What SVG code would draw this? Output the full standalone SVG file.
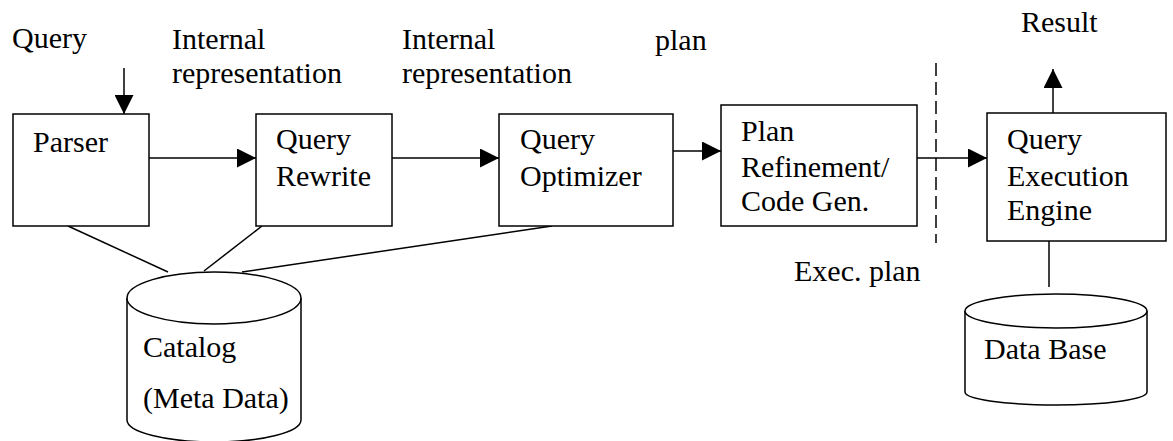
<svg xmlns="http://www.w3.org/2000/svg" width="1173" height="441" viewBox="0 0 1173 441">
<style>
text{font-family:"Liberation Serif","Times New Roman",serif;font-size:30px;fill:#000}
.box{fill:#fff;stroke:#000;stroke-width:1.5}
.ln{fill:none;stroke:#000;stroke-width:1.5}
.arr{fill:none;stroke:#000;stroke-width:1.5;marker-end:url(#ah)}
.cyl{fill:#fff;stroke:#000;stroke-width:1.5}
</style>
<defs>
<marker id="ah" markerUnits="userSpaceOnUse" markerWidth="19" markerHeight="19" refX="19" refY="9.5" orient="auto">
<path d="M0,0 L19,9.5 L0,19 z" fill="#000"/>
</marker>
</defs>
<rect width="1173" height="441" fill="#fff"/>
<g id="labels">
<text x="12" y="48">Query</text>
<text x="172" y="49">Internal</text>
<text x="172" y="83">representation</text>
<text x="402" y="49">Internal</text>
<text x="402" y="83">representation</text>
<text x="655" y="50">plan</text>
<text x="1021" y="32">Result</text>
<text x="794" y="281">Exec. plan</text>
</g>
<g id="connectors">
<line class="arr" x1="124" y1="68" x2="124" y2="114"/>
<line class="arr" x1="145" y1="158" x2="256" y2="158"/>
<line class="arr" x1="388" y1="158" x2="499" y2="158"/>
<line class="arr" x1="673" y1="151" x2="721" y2="151"/>
<line class="arr" x1="898" y1="158" x2="987" y2="158"/>
<line class="arr" x1="1053" y1="113" x2="1053" y2="69"/>
<line class="ln" x1="68" y1="226" x2="168" y2="272"/>
<line class="ln" x1="262" y1="226" x2="204" y2="271"/>
<line class="ln" x1="552" y1="226" x2="242" y2="272"/>
<line class="ln" x1="1049" y1="241" x2="1049" y2="287"/>
<line class="ln" x1="936" y1="63" x2="936" y2="243" stroke-dasharray="13 6"/>
</g>
<g id="parser">
<rect class="box" x="13" y="114" width="136" height="112"/>
<text x="33" y="152">Parser</text>
</g>
<g id="rewrite">
<rect class="box" x="256" y="114" width="136" height="112"/>
<text x="276" y="149">Query</text>
<text x="276" y="186">Rewrite</text>
</g>
<g id="optimizer">
<rect class="box" x="499" y="114" width="174" height="112"/>
<text x="520" y="149">Query</text>
<text x="520" y="186">Optimizer</text>
</g>
<g id="refinement">
<rect class="box" x="721" y="105" width="196" height="121"/>
<text x="741" y="141">Plan</text>
<text x="741" y="177">Refinement/</text>
<text x="741" y="211">Code Gen.</text>
</g>
<g id="engine">
<rect class="box" x="987" y="113" width="179" height="128"/>
<text x="1007" y="149">Query</text>
<text x="1007" y="186">Execution</text>
<text x="1007" y="220">Engine</text>
</g>
<g id="catalog">
<path class="cyl" d="M127,298 L127,420 A87,22 0 0 0 301,420 L301,298"/>
<ellipse class="cyl" cx="214" cy="298" rx="87" ry="26"/>
<text x="143" y="357">Catalog</text>
<text x="143" y="408">(Meta Data)</text>
</g>
<g id="database">
<path class="cyl" d="M965,311 L965,392 A91,13 0 0 0 1147,392 L1147,311"/>
<ellipse class="cyl" cx="1056" cy="311" rx="91" ry="17"/>
<text x="984" y="359">Data Base</text>
</g>
</svg>
